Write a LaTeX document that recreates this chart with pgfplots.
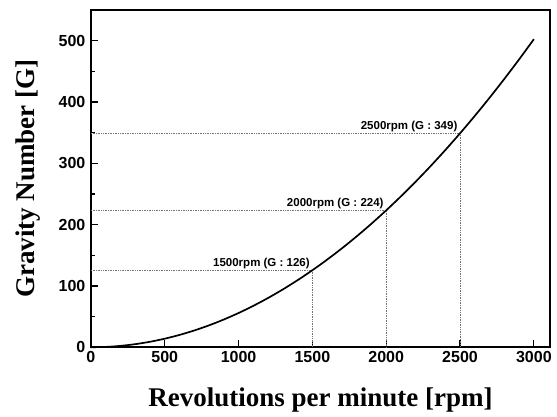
\documentclass[border=0pt]{standalone}
\usepackage{pgfplots}
\pgfplotsset{compat=1.18}
\usepackage{fontspec}
\setmainfont{Liberation Sans}
\newfontfamily\serifb{Liberation Serif}
\begin{document}
\begin{tikzpicture}
\begin{axis}[
  scale only axis, width=459pt, height=337pt,
  xmin=0, xmax=3110, ymin=0, ymax=550,
  xtick={0,500,...,3000}, ytick={0,100,...,500},
  minor ytick={50,150,...,450},
  tick align=inside, xtick pos=bottom, ytick pos=left,
  major tick length=7pt, minor tick length=4pt,
  every tick/.style={line width=1.2pt, black},
  axis line style={line width=1.5pt},
  /pgf/number format/assume math mode=true,
  /pgf/number format/set thousands separator={},
  tick label style={font=\fontsize{16}{16}\selectfont\bfseries},
  xticklabel style={yshift=-1pt},
  yticklabel style={xshift=-2pt},
  xlabel={\serifb\bfseries\fontsize{27}{27}\selectfont Revolutions per minute [rpm]},
  ylabel={\serifb\bfseries\fontsize{27}{27}\selectfont Gravity Number [G]},
  xlabel style={at={(axis description cs:0.5,-0.157)}, anchor=center},
  ylabel style={at={(axis description cs:-0.137,0.5)}, anchor=center},
  clip=false,
]
\path (axis description cs:-0.198,-0.205) (axis description cs:1.015,1.030);
\addplot[black!55, densely dotted, line width=0.7pt] coordinates {(0,125.64) (1500,125.64) (1500,0)};
\addplot[black!55, densely dotted, line width=0.7pt] coordinates {(0,223.36) (2000,223.36) (2000,0)};
\addplot[black!55, densely dotted, line width=0.7pt] coordinates {(0,349) (2500,349) (2500,0)};
\addplot[black, line width=1.7pt, smooth] coordinates {
(0,0) (100,0.558) (200,2.23) (300,5.03) (400,8.93) (500,13.96) (600,20.10) (700,27.36) (800,35.74) (900,45.23)
(1000,55.84) (1100,67.57) (1200,80.41) (1300,94.37) (1400,109.45) (1500,125.64) (1600,142.95) (1700,161.38)
(1800,180.92) (1900,201.58) (2000,223.36) (2100,246.25) (2200,270.27) (2300,295.39) (2400,321.64) (2500,349.00)
(2600,377.48) (2700,407.07) (2800,437.79) (2900,469.61) (3000,502.56)};
\node[anchor=south east, font=\fontsize{11.5}{11.5}\selectfont\bfseries, inner sep=1pt] at (axis cs:1490,125.64) {1500rpm (G : 126)};
\node[anchor=south east, font=\fontsize{11.5}{11.5}\selectfont\bfseries, inner sep=1pt] at (axis cs:1990,223.36) {2000rpm (G : 224)};
\node[anchor=south east, font=\fontsize{11.5}{11.5}\selectfont\bfseries, inner sep=1pt] at (axis cs:2490,349) {2500rpm (G : 349)};
\end{axis}
\end{tikzpicture}
\end{document}
